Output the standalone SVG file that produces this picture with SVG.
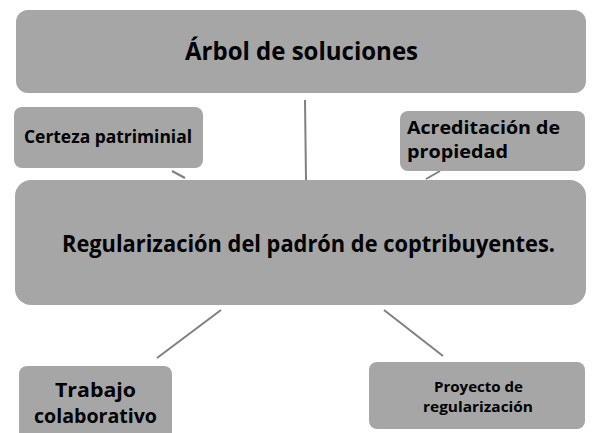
<svg xmlns="http://www.w3.org/2000/svg" width="600" height="433" viewBox="0 0 600 433">
<style>
.box{fill:#a6a6a6;}
.t{font-family:"Open Sans","Noto Sans",sans-serif;font-weight:bold;fill:#000;}
.c{stroke:#808080;stroke-width:2;fill:none;}
</style>
<rect width="600" height="433" fill="#fff"/>
<g id="connectors">
<line class="c" x1="305" y1="100" x2="306" y2="180"/>
<line class="c" x1="172" y1="171" x2="185" y2="178"/>
<line class="c" x1="440" y1="171" x2="426" y2="179"/>
<line class="c" x1="221" y1="310" x2="157" y2="358"/>
<line class="c" x1="384" y1="310" x2="443" y2="356"/>
</g>
<g id="n-arbol">
<rect class="box" x="16" y="10" width="570" height="83" rx="12"/>
<text class="t" x="185" y="60" font-size="25" textLength="233" lengthAdjust="spacingAndGlyphs">Árbol de soluciones</text>
</g>
<g id="n-certeza">
<rect class="box" x="14" y="107" width="189" height="61" rx="8"/>
<text class="t" x="24" y="143" font-size="17.5" textLength="168" lengthAdjust="spacingAndGlyphs">Certeza patriminial</text>
</g>
<g id="n-acred">
<rect class="box" x="400" y="111" width="185" height="60" rx="8"/>
<text class="t" x="407" y="134" font-size="17.5" textLength="153" lengthAdjust="spacingAndGlyphs">Acreditación de</text>
<text class="t" x="407" y="158" font-size="17.5" textLength="101" lengthAdjust="spacingAndGlyphs">propiedad</text>
</g>
<g id="n-regular">
<rect class="box" x="15" y="180" width="571" height="125" rx="16"/>
<text class="t" x="62" y="252" font-size="23" textLength="493" lengthAdjust="spacingAndGlyphs">Regularización del padrón de coptribuyentes.</text>
</g>
<g id="n-trabajo">
<rect class="box" x="19" y="366" width="153" height="80" rx="8"/>
<text class="t" x="55" y="397" font-size="19" textLength="81" lengthAdjust="spacingAndGlyphs">Trabajo</text>
<text class="t" x="34" y="423" font-size="19" textLength="123" lengthAdjust="spacingAndGlyphs">colaborativo</text>
</g>
<g id="n-proyecto">
<rect class="box" x="369" y="362" width="216" height="67" rx="8"/>
<text class="t" x="434" y="392" font-size="14.5" textLength="89" lengthAdjust="spacingAndGlyphs">Proyecto de</text>
<text class="t" x="423" y="412" font-size="14.5" textLength="110" lengthAdjust="spacingAndGlyphs">regularización</text>
</g>
</svg>
